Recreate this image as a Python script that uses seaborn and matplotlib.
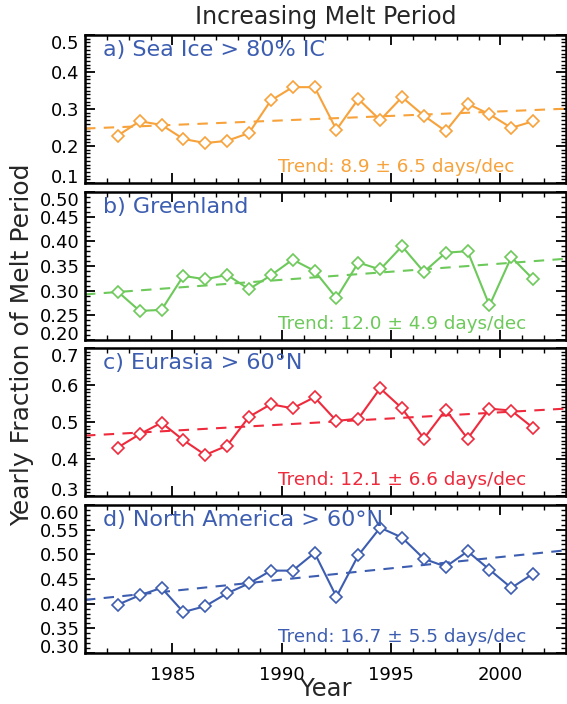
import numpy as np
import pandas as pd
import matplotlib
matplotlib.use('Agg')
import matplotlib.pyplot as plt
import seaborn as sns
from matplotlib.ticker import MultipleLocator, FormatStrFormatter

# Yearly fraction of melt period (1982-2001)
years = list(range(1982, 2002))
sea_ice = [0.228, 0.267, 0.257, 0.219, 0.208, 0.214, 0.235, 0.323, 0.359, 0.359,
           0.244, 0.327, 0.270, 0.332, 0.282, 0.240, 0.314, 0.286, 0.249, 0.267]
greenland = [0.298, 0.259, 0.261, 0.330, 0.323, 0.332, 0.303, 0.331, 0.363, 0.340,
             0.285, 0.357, 0.343, 0.390, 0.338, 0.377, 0.380, 0.270, 0.368, 0.323]
eurasia = [0.431, 0.467, 0.498, 0.451, 0.411, 0.436, 0.514, 0.548, 0.537, 0.567,
           0.503, 0.509, 0.591, 0.537, 0.455, 0.533, 0.455, 0.536, 0.531, 0.484]
north_america = [0.398, 0.417, 0.432, 0.383, 0.395, 0.421, 0.441, 0.467, 0.467, 0.503,
                 0.414, 0.498, 0.554, 0.534, 0.491, 0.475, 0.506, 0.469, 0.432, 0.461]

panel_labels = ['a) Sea Ice > 80% IC', 'b) Greenland',
                'c) Eurasia > 60°N', 'd) North America > 60°N']
trend_days = [8.9, 12.0, 12.1, 16.7]
trend_err = [6.5, 4.9, 6.6, 5.5]
line_colors = ['#F7A23A', '#6CC95A', '#EE2A3C', '#3C5DB0']
label_color = '#3C5DB0'

# y-axis settings per panel: (min, max, major step, minor step, format)
y_axes = [(0.1, 0.5, 0.1, 0.01, '%.1f'),
          (0.2, 0.5, 0.05, 0.01, '%.2f'),
          (0.3, 0.7, 0.1, 0.01, '%.1f'),
          (0.3, 0.6, 0.05, 0.01, '%.2f')]

series = [sea_ice, greenland, eurasia, north_america]

sns.set_style('ticks')
plt.rcParams['font.family'] = ['DejaVu Sans']

W, H = 567, 704
fig = plt.figure(figsize=(W / 100, H / 100), dpi=100)

x0, x1 = 1981, 2003
tops = [35, 192, 348, 505]
ph = 148
left, right = 85, 566

axes = []
for i, vals in enumerate(series):
    ax = fig.add_axes([left / W, 1 - (tops[i] + ph) / H, (right - left) / W, ph / H])
    axes.append(ax)
    df = pd.DataFrame({'year': np.array(years) + 0.5, 'frac': vals})
    c = line_colors[i]

    # trend line: slope from the quoted trend (days/decade), through the mean point
    slope = trend_days[i] / 3650.0
    tx = np.array([x0, x1], dtype=float)
    ty = df['frac'].mean() + slope * (tx - df['year'].mean())
    sns.lineplot(x=tx, y=ty, ax=ax, color=c, lw=1.5, linestyle=(0, (5, 4)))

    sns.lineplot(data=df, x='year', y='frac', ax=ax, color=c, lw=1.5,
                 marker='D', markersize=6, markerfacecolor='white',
                 markeredgecolor=c, markeredgewidth=1.2)

    lo, hi, maj, mnr, fmt = y_axes[i]
    ax.set_ylim(lo, hi)
    ax.set_xlim(x0, x1)
    ax.yaxis.set_major_locator(MultipleLocator(maj))
    ax.yaxis.set_minor_locator(MultipleLocator(mnr))
    ax.yaxis.set_major_formatter(FormatStrFormatter(fmt))
    ax.xaxis.set_major_locator(MultipleLocator(5))
    ax.xaxis.set_minor_locator(MultipleLocator(1))
    ax.tick_params(which='both', direction='in', top=True, right=True,
                   labelsize=13, colors='black')
    ax.tick_params(axis='y', pad=4)
    ax.tick_params(axis='x', pad=9)
    ax.tick_params(which='major', length=7, width=1.3)
    ax.tick_params(which='minor', length=3.5, width=1.0)
    for s in ax.spines.values():
        s.set_linewidth(1.8)
        s.set_color('black')
    ax.set_xlabel('')
    ax.set_ylabel('')
    if i < 3:
        ax.tick_params(labelbottom=False)

    # keep the end labels of neighbouring panels apart
    yt = ax.yaxis.get_major_ticks()
    ax.figure.canvas.draw()
    ticks_vis = [t for t in yt if lo - 1e-9 <= t.get_loc() <= hi + 1e-9]
    ticks_vis[0].label1.set_verticalalignment('baseline')
    ticks_vis[-1].label1.set_verticalalignment('top')

    ax.text(0.037, 0.90, panel_labels[i], transform=ax.transAxes, fontsize=16,
            color=label_color, va='center', ha='left')
    ax.text(0.401, 0.11, f'Trend: {trend_days[i]:.1f} ± {trend_err[i]:.1f} days/dec',
            transform=ax.transAxes, fontsize=13.2, color=c, va='center', ha='left')

fig.text((left + right) / 2 / W, 1 - 689 / H, 'Year',
         ha='center', va='center', fontsize=17.5)
fig.text((left + right) / 2 / W, 1 - 17 / H, 'Increasing Melt Period',
         ha='center', va='center', fontsize=17)
fig.text(22 / W, 1 - 345 / H, 'Yearly Fraction of Melt Period', rotation=90,
         ha='center', va='center', fontsize=18)

fig.savefig('out.png', dpi=100)
